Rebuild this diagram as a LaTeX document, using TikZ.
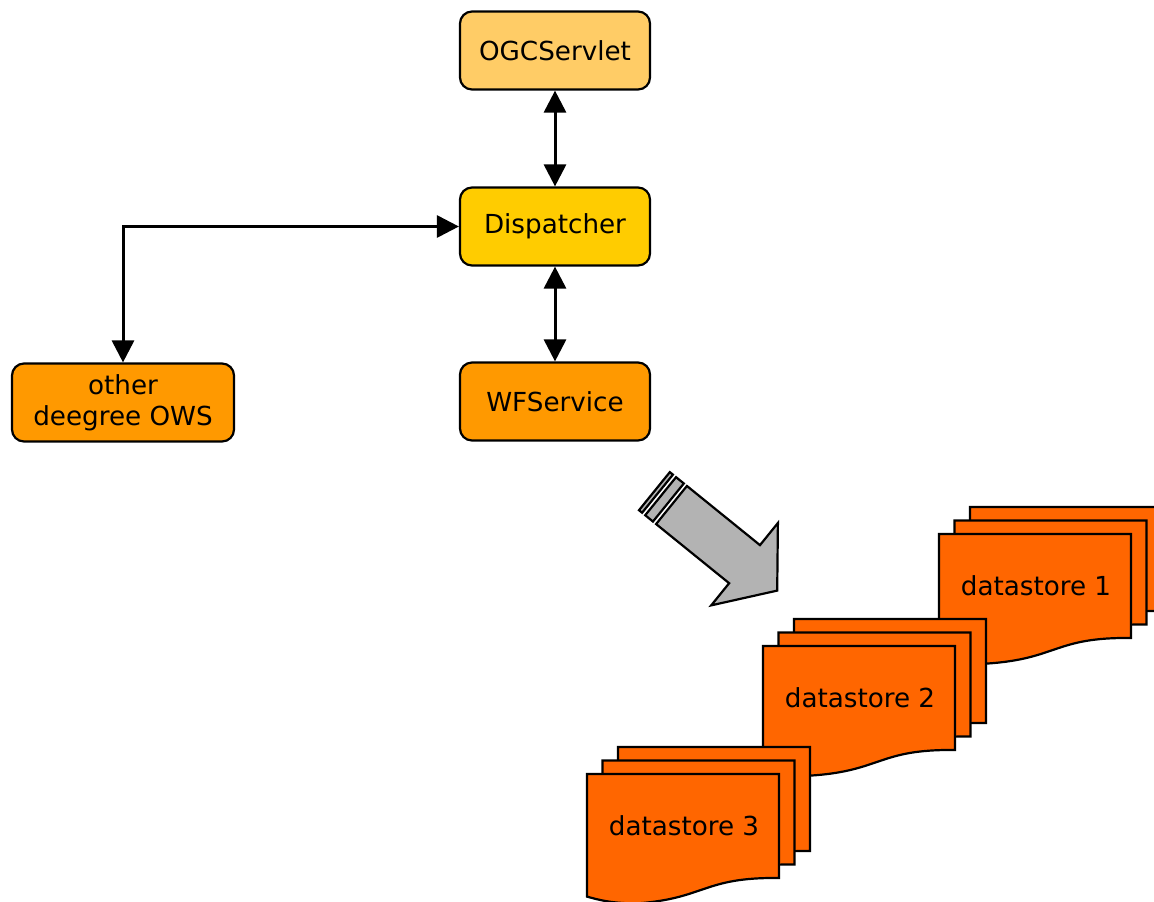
\documentclass[tikz,border=0pt]{standalone}
\usepackage{fontspec}
\setmainfont{DejaVu Sans}
\usepackage{tikz}
\usetikzlibrary{arrows.meta,positioning,calc}
\definecolor{servlet}{HTML}{FFCC66}
\definecolor{dispatch}{HTML}{FFCC00}
\definecolor{service}{HTML}{FF9900}
\definecolor{store}{HTML}{FF6600}
\definecolor{biggray}{HTML}{B3B3B3}
\newcommand\boxfont{\fontsize{13.1}{15.5}\selectfont}
\newcommand\dspage[2]{\draw[page] (#1,#2) -- ({#1+192},#2) -- ({#1+192},{#2+104})
  .. controls ({#1+116},{#2+103}) and ({#1+118.6},{#2+124.5}) .. ({#1+50},{#2+129.4})
  .. controls ({#1+23.8},{#2+129.4}) and ({#1+11.3},{#2+125.7}) .. (#1,{#2+122.6}) -- cycle;}
\newcommand\dsstack[4]{\dspage{#1+31}{#2-27}\dspage{#1+15.5}{#2-13.5}\dspage{#1}{#2}
  \node[font = \boxfont] (#3) at ({#1+97},{#2+52}) {#4};}
\tikzset{
  box/.style = {draw, line width = 1.1pt, rounded corners = 6pt, minimum width = 95pt,
    minimum height = 39pt, inner sep = 0pt, align = center, font = \boxfont},
  link/.style = {line width = 1.5pt, {Triangle[length = 11pt, width = 11pt]}-{Triangle[length = 11pt, width = 11pt]}},
  page/.style = {draw, line width = 1.1pt, fill = store},
  stripe/.style = {draw, line width = 1.1pt, fill = biggray}
}
\begin{document}
\begin{tikzpicture}[x = 0.5pt, y = -0.5pt]
\useasboundingbox (0,0) rectangle (1154,901);
\node[box, fill = servlet] (servlet) at (555,50.5) {OGCServlet};
\node[box, fill = dispatch] (dispatcher) at (555,226.5) {Dispatcher};
\node[box, fill = service] (wfs) at (555,401.5) {WFService};
\node[box, fill = service, minimum width = 111pt] (ows) at (123,402.5) {other\\deegree OWS};
\draw[link] (servlet) -- (dispatcher);
\draw[link] (dispatcher) -- (wfs);
\draw[link] (dispatcher.west) -| (ows.north);
\begin{scope}[shift = {(671.5,505)}, rotate = -39]
\draw[stripe] (0,-24.5) -- (94,-24.5) -- (94,-53) -- (136,0) -- (94,53) -- (94,24.5) -- (0,24.5) -- cycle;
\draw[stripe] (-14,-24.5) rectangle (-4,24.5);
\draw[stripe] (-22,-24.5) rectangle (-18,24.5);
\end{scope}
\dsstack{939}{534}{ds1}{datastore 1}
\dsstack{763}{646}{ds2}{datastore 2}
\dsstack{587}{774}{ds3}{datastore 3}
\end{tikzpicture}
\end{document}
